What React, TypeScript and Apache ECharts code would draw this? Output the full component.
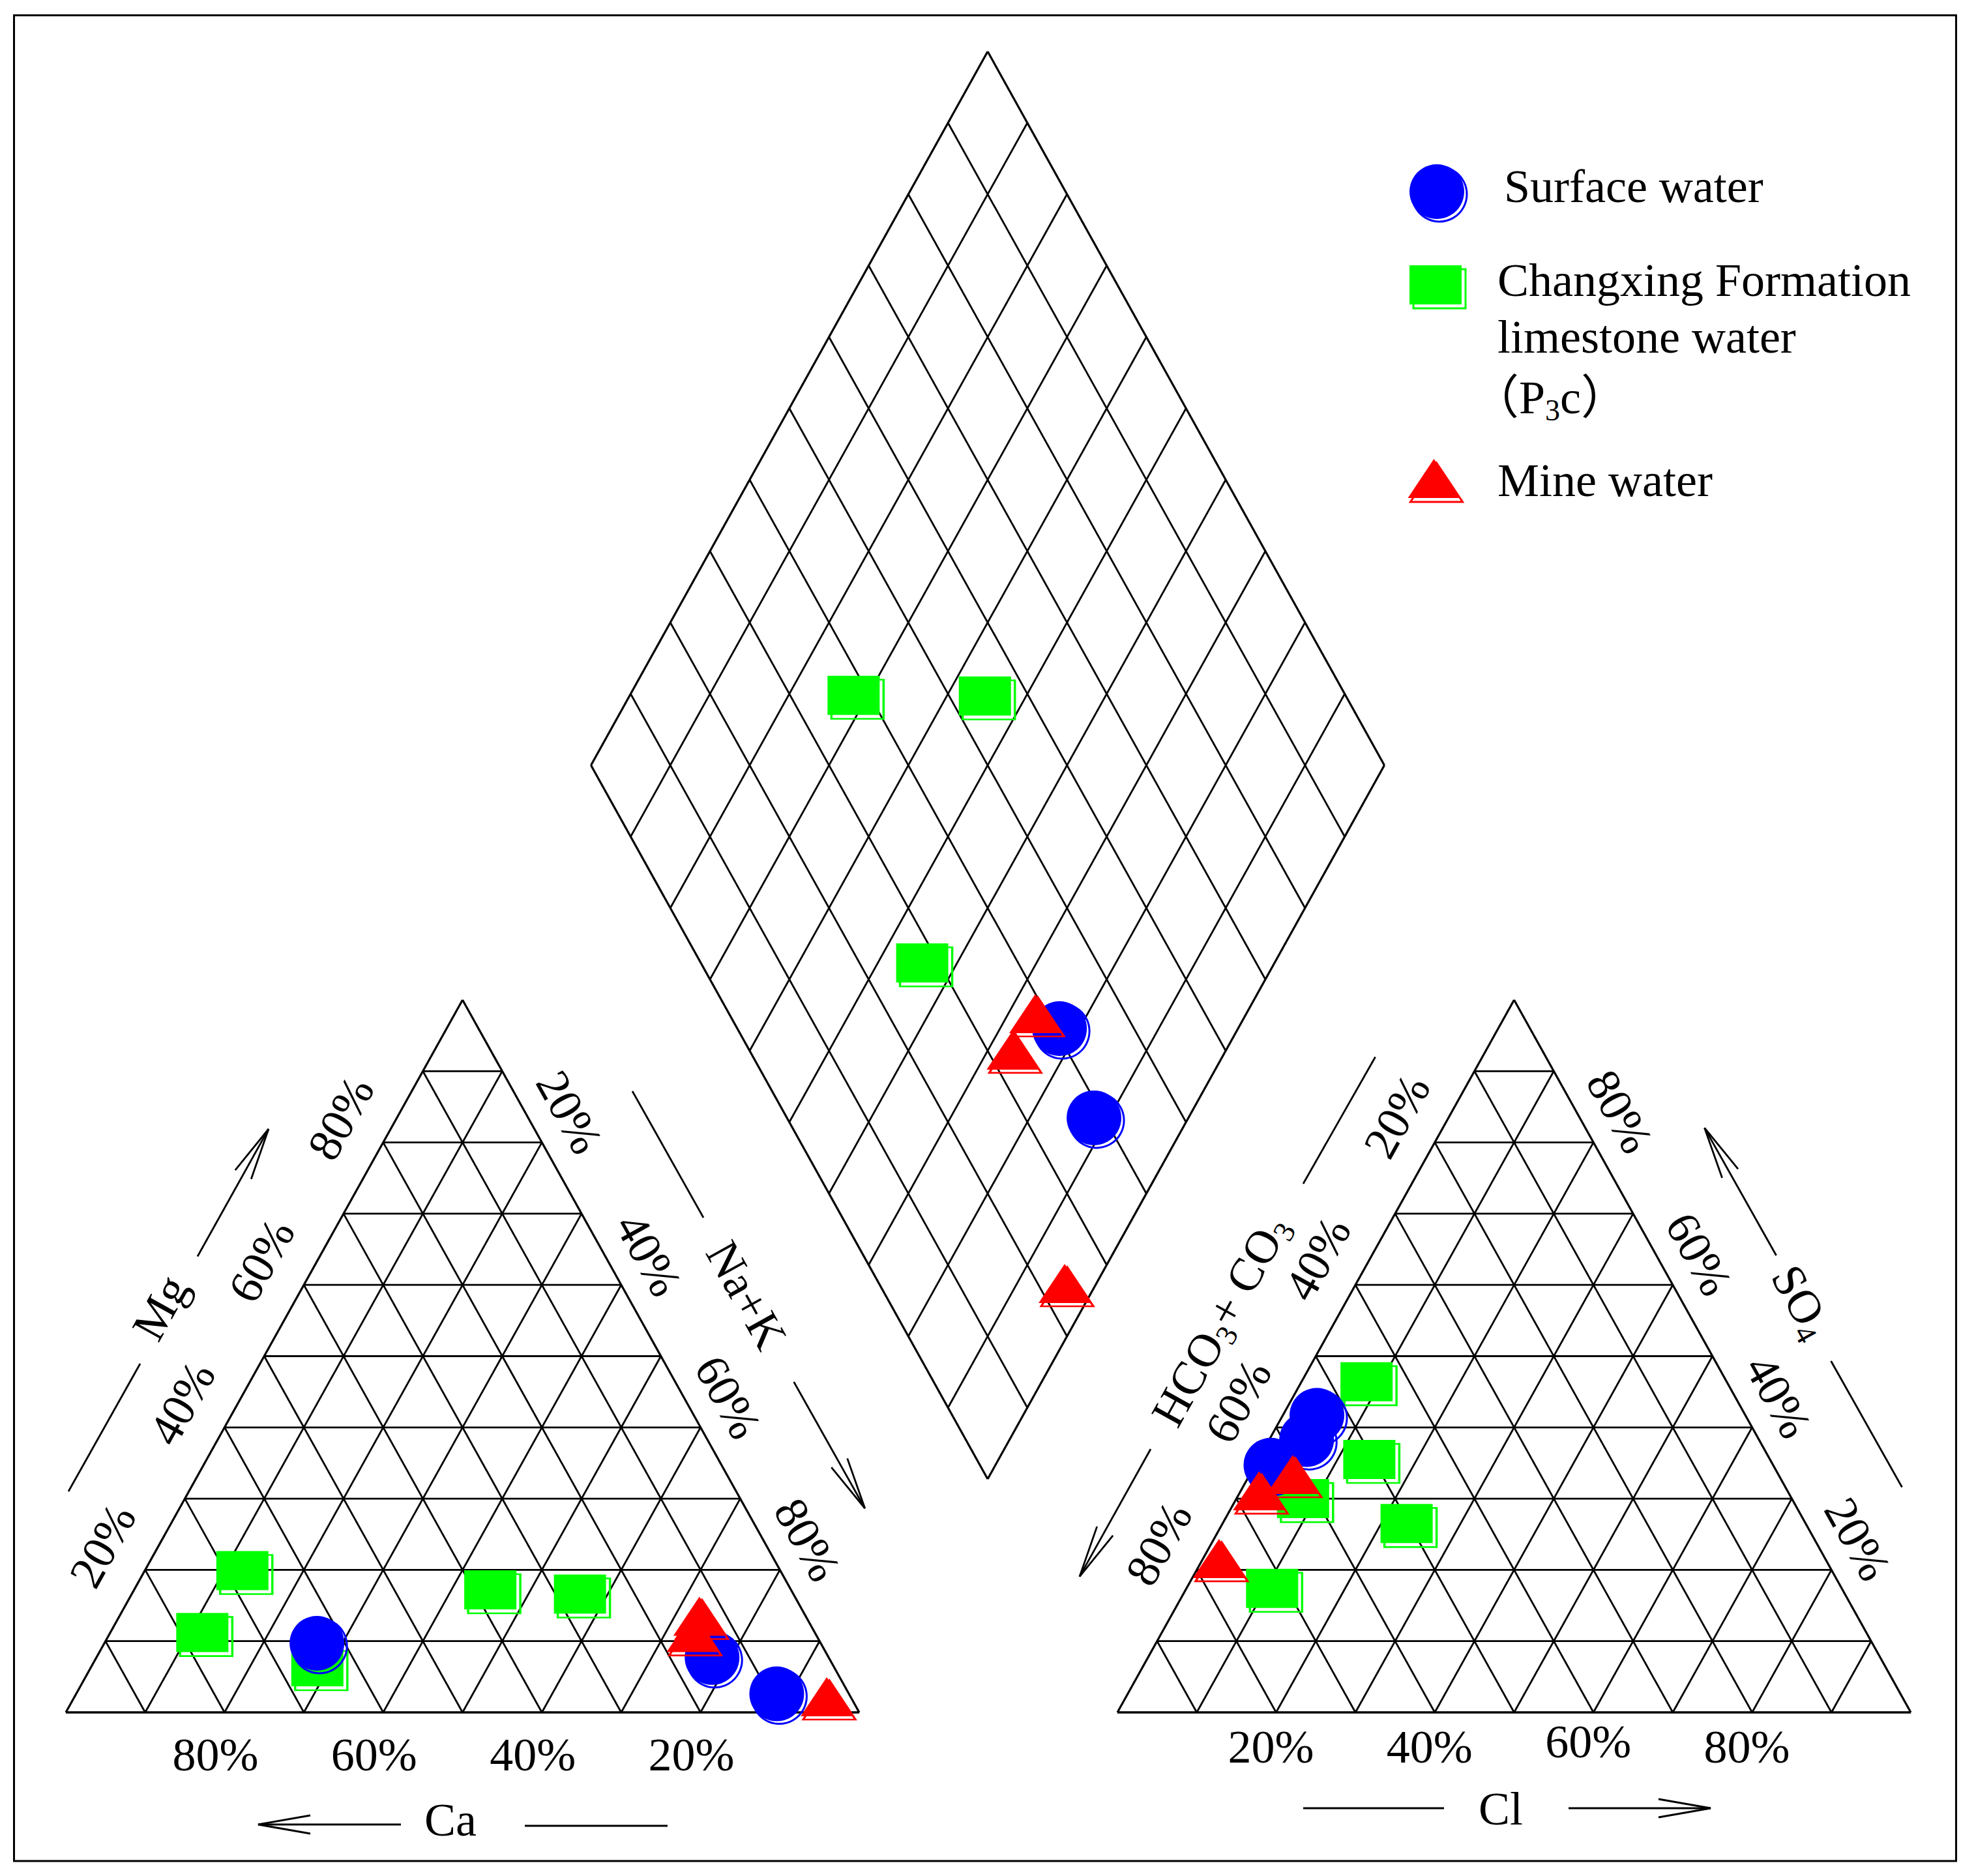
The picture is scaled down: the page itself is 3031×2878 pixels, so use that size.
import React, { useEffect, useRef } from "react";
import * as echarts from "echarts";

// ---------------- data (percent) ----------------
// Cation triangle: [Ca, Mg, Na+K]
const cationSurface = [[63.5, 9.7, 26.8], [14.7, 7.7, 77.6], [9.1, 2.6, 88.3]];
const cationChangxing = [[67.8, 19.9, 12.3], [77.2, 11.2, 11.6], [65.1, 6.4, 28.5], [37.9, 17.2, 44.9], [26.9, 16.6, 56.5]];
const cationMine = [[13.4, 13.5, 73.1], [15.4, 11.2, 73.4], [3.0, 2.2, 94.8]];
// Anion triangle: [HCO3+CO3, SO4, Cl]
const anionSurface = [[54.0, 41.7, 4.3], [57.0, 38.3, 4.7], [63.3, 34.7, 2.0]];
const anionChangxing = [[45.4, 46.4, 8.2], [50.5, 35.5, 14.0], [61.6, 30.0, 8.4], [50.3, 26.5, 23.2], [71.8, 17.4, 10.8]];
const anionMine = [[61.2, 33.4, 5.4], [66.6, 31.1, 2.3], [76.4, 21.6, 2.0]];
// Diamond: [Na+K, SO4+Cl]
const diamondSurface = [[77.5, 40.6], [88.1, 38.7]];
const diamondChangxing = [[28.2, 38.0], [44.8, 54.5], [55.6, 27.9]];
const diamondMine = [[73.4, 38.6], [73.1, 33.2], [96.0, 23.4]];

const tickValues = [20, 40, 60, 80];
const tickLabels = ["20%", "40%", "60%", "80%"];
const legendNames = ["Surface water", "Changxing Formation", "limestone water", "（P{s|3}c）", "Mine water"];

// ---------------- layout ----------------
const PAGE_W = 3031;
const PAGE_H = 2878;
const TRI_W = 1217;
const TRI_H = 1093;
const BASE_Y = 2627;
const CAT_X0 = 101;
const AN_X0 = 1714;
const DIA_CX = 1515;
const DIA_CY = 1174;
const DIA_HW = 608.5;
const DIA_HH = 1095;
const THETA = Math.atan2(TRI_H, TRI_W / 2);
const FONT = '"Liberation Serif", "Times New Roman", "Noto Sans CJK SC", serif';
const GREEN = "#00ff00";
const BLUE = "#0000ff";
const RED = "#ff0000";
const GRID_LW = 2.8;
const EDGE_LW = 3.2;

const catXY = (p: number[]) => [CAT_X0 + ((p[2] + p[1] / 2) / 100) * TRI_W, BASE_Y - (p[1] / 100) * TRI_H];
const anXY = (p: number[]) => [AN_X0 + ((p[2] + p[1] / 2) / 100) * TRI_W, BASE_Y - (p[1] / 100) * TRI_H];
const diaXY = (p: number[]) => [DIA_CX - DIA_HW + (DIA_HW * (p[0] + p[1])) / 100, DIA_CY + (DIA_HH * (p[0] - p[1])) / 100];

const lerp = (p: number[], q: number[], t: number) => [p[0] + (q[0] - p[0]) * t, p[1] + (q[1] - p[1]) * t];

function triSegments(x0: number) {
  const A = [x0, BASE_Y];
  const B = [x0 + TRI_W, BASE_Y];
  const C = [x0 + TRI_W / 2, BASE_Y - TRI_H];
  const segs: number[][] = [];
  for (let i = 1; i < 10; i++) {
    const t = i / 10;
    segs.push([...lerp(A, C, t), ...lerp(B, C, t), GRID_LW]);
    segs.push([...lerp(A, B, t), ...lerp(A, C, t), GRID_LW]);
    segs.push([...lerp(B, A, t), ...lerp(B, C, t), GRID_LW]);
  }
  segs.push([...A, ...B, 3.6], [...B, ...C, EDGE_LW], [...C, ...A, EDGE_LW]);
  return segs;
}

function diamondSegments() {
  const L = [DIA_CX - DIA_HW, DIA_CY];
  const Bt = [DIA_CX, DIA_CY + DIA_HH];
  const R = [DIA_CX + DIA_HW, DIA_CY];
  const T = [DIA_CX, DIA_CY - DIA_HH];
  const segs: number[][] = [];
  for (let i = 1; i < 10; i++) {
    const t = i / 10;
    segs.push([...lerp(L, T, t), ...lerp(Bt, R, t), GRID_LW]);
    segs.push([...lerp(L, Bt, t), ...lerp(T, R, t), GRID_LW]);
  }
  segs.push([...L, ...Bt, EDGE_LW], [...Bt, ...R, EDGE_LW], [...R, ...T, EDGE_LW], [...T, ...L, EDGE_LW]);
  return segs;
}

const subRich = { s: { fontSize: 46, fontFamily: FONT, verticalAlign: "top", padding: [38, 0, 0, 0] } };

function txt(text: string, x: number, y: number, rotation = 0, align = "center") {
  return {
    type: "text",
    x,
    y,
    rotation,
    z: 20,
    silent: true,
    style: { text, fill: "#000", fontSize: 72, fontFamily: FONT, align, verticalAlign: "middle", rich: subRich },
  };
}

function seg(x1: number, y1: number, x2: number, y2: number, lw = 2.8) {
  return { type: "line", z: 20, silent: true, shape: { x1, y1, x2, y2 }, style: { stroke: "#000", lineWidth: lw } };
}

function arrow(x1: number, y1: number, x2: number, y2: number) {
  const dx = x2 - x1;
  const dy = y2 - y1;
  const len = Math.hypot(dx, dy);
  const ux = dx / len;
  const uy = dy / len;
  const bx = x2 - ux * 80;
  const by = y2 - uy * 80;
  const px = -uy * 14;
  const py = ux * 14;
  return [
    seg(x1, y1, x2, y2),
    {
      type: "polyline",
      z: 20,
      silent: true,
      shape: { points: [[bx + px, by + py], [x2, y2], [bx - px, by - py]] },
      style: { stroke: "#000", lineWidth: 2.8, fill: "none" },
    },
  ];
}

function buildGraphic() {
  const g: any[] = [];
  // outer frame
  g.push({ type: "rect", z: 20, silent: true, shape: { x: 21.5, y: 23.5, width: 2979, height: 2831.5 }, style: { fill: "none", stroke: "#000", lineWidth: 3 } });

  // bottom tick labels
  tickValues.forEach((v, i) => {
    const f = v / 100;
    g.push(txt(tickLabels[i], CAT_X0 + TRI_W - f * TRI_W - 14, 2692));
    g.push(txt(tickLabels[i], AN_X0 + f * TRI_W - 8, i === 2 ? 2672 : 2680));
  });
  // side tick labels
  tickValues.forEach((v, i) => {
    const f = v / 100;
    // Mg (left edge, cation)
    g.push(txt(tickLabels[i], CAT_X0 + (f * TRI_W) / 2 - 65, BASE_Y - f * TRI_H - 37, THETA));
    // Na+K (right edge, cation)
    const hn = 1 - f;
    g.push(txt(tickLabels[i], CAT_X0 + TRI_W - (hn * TRI_W) / 2 + 42, BASE_Y - hn * TRI_H - 46, -THETA));
    // HCO3+CO3 (left edge, anion)
    const hh = 1 - f;
    g.push(txt(tickLabels[i], AN_X0 + (hh * TRI_W) / 2 - 58, BASE_Y - hh * TRI_H - 40, THETA));
    // SO4 (right edge, anion)
    g.push(txt(tickLabels[i], AN_X0 + TRI_W - (f * TRI_W) / 2 + 40, BASE_Y - f * TRI_H - 47, -THETA));
  });

  // axis titles
  g.push(txt("Ca", 691, 2792));
  g.push(txt("Cl", 2302, 2775));
  g.push(txt("Mg", 246, 2006, THETA));
  g.push(txt("Na+K", 1145, 1987, -THETA));
  g.push(txt("HCO{s|3}+ CO{s|3}", 1872, 2026, THETA));
  g.push(txt("SO{s|4}", 2764, 1997, -THETA));

  // arrows and lines
  g.push(...arrow(615, 2799, 396, 2799));
  g.push(seg(805, 2801, 1024, 2801));
  g.push(seg(1999, 2774, 2215, 2774));
  g.push(...arrow(2406, 2774, 2624, 2774));
  g.push(seg(105, 2288, 215, 2092));
  g.push(...arrow(303, 1927.5, 412, 1732));
  g.push(seg(970, 1674, 1079, 1868));
  g.push(...arrow(1217.7, 2120, 1326.7, 2314));
  g.push(seg(1999, 1816, 2109.6, 1621.5));
  g.push(...arrow(1765, 2223, 1656, 2418.6));
  g.push(...arrow(2724.6, 1926, 2614.6, 1730.4));
  g.push(seg(2808.6, 2088, 2917.5, 2281.5));

  // legend markers
  g.push({ type: "circle", z: 20, silent: true, shape: { cx: 2208, cy: 298, r: 42 }, style: { fill: "none", stroke: BLUE, lineWidth: 3 } });
  g.push({ type: "circle", z: 21, silent: true, shape: { cx: 2204, cy: 294, r: 42 }, style: { fill: BLUE } });
  g.push({ type: "rect", z: 20, silent: true, shape: { x: 2168, y: 413, width: 80, height: 60 }, style: { fill: "none", stroke: GREEN, lineWidth: 3 } });
  g.push({ type: "rect", z: 21, silent: true, shape: { x: 2162, y: 407, width: 80, height: 60 }, style: { fill: GREEN } });
  g.push({ type: "polygon", z: 20, silent: true, shape: { points: [[2203.5, 710], [2243.5, 770], [2163.5, 770]] }, style: { fill: "none", stroke: RED, lineWidth: 3 } });
  g.push({ type: "polygon", z: 21, silent: true, shape: { points: [[2199.5, 704], [2239.5, 764], [2159.5, 764]] }, style: { fill: RED } });

  // legend text
  g.push(txt(legendNames[0], 2307, 286, 0, "left"));
  g.push(txt(legendNames[1], 2297, 430, 0, "left"));
  g.push(txt(legendNames[2], 2297, 517, 0, "left"));
  g.push(txt(legendNames[3], 2258, 610, 0, "left"));
  g.push(txt(legendNames[4], 2297, 737, 0, "left"));
  return g;
}

function scatterPair(name: string, pts: number[][], symbol: string, size: any, color: string, offset: number[], z: number) {
  return [
    {
      type: "scatter",
      name: name + " outline",
      data: pts,
      symbol,
      symbolSize: size,
      symbolOffset: offset,
      silent: true,
      z,
      itemStyle: { color: "rgba(0,0,0,0)", borderColor: color, borderWidth: 3, opacity: 1 },
      emphasis: { disabled: true },
    },
    {
      type: "scatter",
      name,
      data: pts,
      symbol,
      symbolSize: size,
      silent: true,
      z: z + 1,
      itemStyle: { color, opacity: 1 },
      emphasis: { disabled: true },
    },
  ];
}

export default function App() {
  const ref = useRef<HTMLDivElement>(null);
  useEffect(() => {
    if (!ref.current) return;
    const chart = echarts.init(ref.current, null, { renderer: "svg" });
    const greenPts = [...cationChangxing.map(catXY), ...anionChangxing.map(anXY), ...diamondChangxing.map(diaXY)];
    const bluePts = [...cationSurface.map(catXY), ...anionSurface.map(anXY), ...diamondSurface.map(diaXY)];
    const redPts = [...cationMine.map(catXY), ...anionMine.map(anXY), ...diamondMine.map(diaXY)];
    const segments = [...triSegments(CAT_X0), ...triSegments(AN_X0), ...diamondSegments()];
    const option: any = {
      animation: false,
      backgroundColor: "#ffffff",
      grid: { left: 0, right: 0, top: 0, bottom: 0 },
      xAxis: { type: "value", min: 0, max: PAGE_W, show: false },
      yAxis: { type: "value", min: 0, max: PAGE_H, inverse: true, show: false },
      series: [
        {
          type: "custom",
          name: "grid",
          coordinateSystem: "cartesian2d",
          silent: true,
          z: 1,
          data: segments,
          encode: { x: [0, 2], y: [1, 3] },
          renderItem: (_params: any, api: any) => {
            const p1 = api.coord([api.value(0), api.value(1)]);
            const p2 = api.coord([api.value(2), api.value(3)]);
            return {
              type: "line",
              shape: { x1: p1[0], y1: p1[1], x2: p2[0], y2: p2[1] },
              style: { stroke: "#000", lineWidth: api.value(4) },
            };
          },
        },
        ...scatterPair("Changxing Formation limestone water (P3c)", greenPts, "rect", [80, 60], GREEN, [6, 6], 3),
        ...scatterPair("Surface water", bluePts, "circle", 84, BLUE, [4, 4], 5),
        ...scatterPair("Mine water", redPts, "triangle", [80, 60], RED, [4, 5], 7),
      ],
      graphic: buildGraphic(),
    };
    chart.setOption(option);
    return () => chart.dispose();
  }, []);
  return (
    <div
      ref={ref}
      style={{ position: "fixed", left: 0, top: 0, width: PAGE_W, height: PAGE_H, background: "#fff" }}
    />
  );
}
